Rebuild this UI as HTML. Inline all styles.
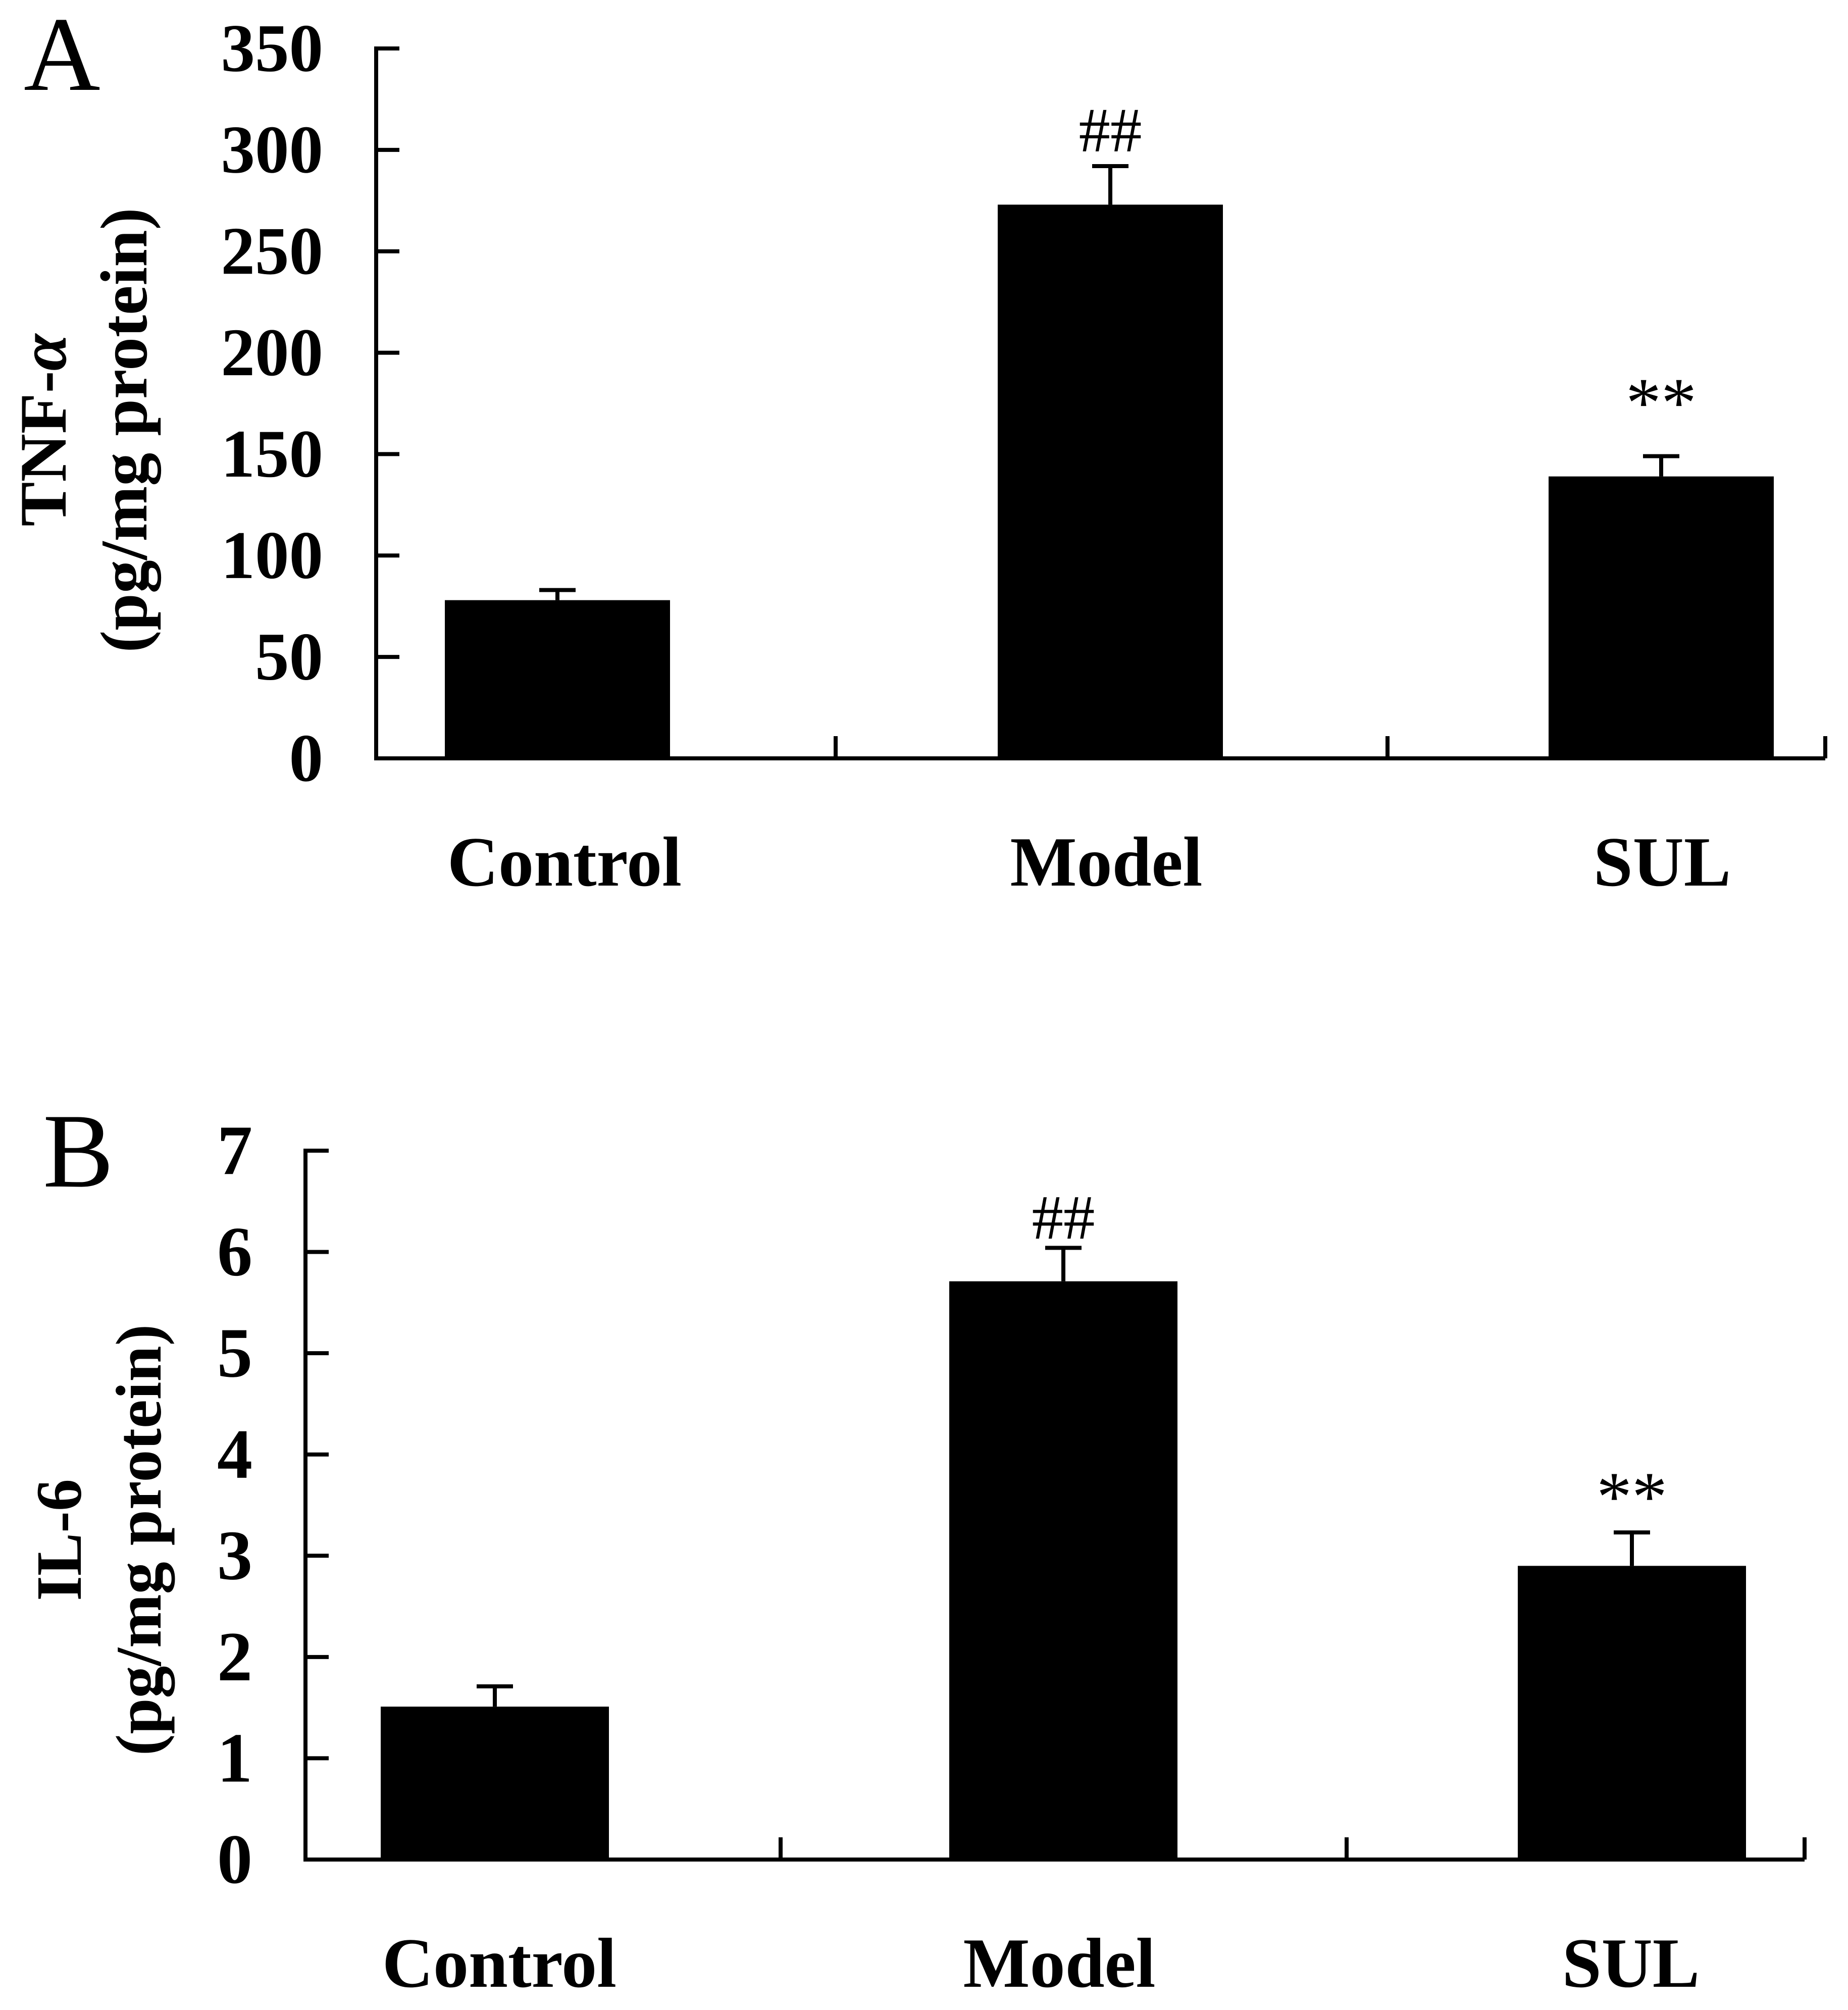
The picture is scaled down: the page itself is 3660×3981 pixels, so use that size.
<!DOCTYPE html>
<html><head><meta charset="utf-8"><style>
html,body{margin:0;padding:0;background:#fff;}
svg{display:block;font-family:"Liberation Serif",serif;}
</style></head><body>
<svg id="fig" width="3660" height="3981" viewBox="0 0 3660 3981" xmlns="http://www.w3.org/2000/svg">
<rect width="3660" height="3981" fill="#fff"/>
</svg>
<script>
const categories = ["Control", "Model", "SUL"];
const tnfValues = [78, 273, 139];
const tnfErrors = [5, 19, 10];
const tnfTicks = [0, 50, 100, 150, 200, 250, 300, 350];
const tnfMarks = ["", "##", "**"];
const il6Values = [1.51, 5.71, 2.90];
const il6Errors = [0.20, 0.33, 0.33];
const il6Ticks = [0, 1, 2, 3, 4, 5, 6, 7];
const il6Marks = ["", "##", "**"];

const NS = "http://www.w3.org/2000/svg";
const svg = document.getElementById("fig");
function mk(tag, attrs, parent){
  const e = document.createElementNS(NS, tag);
  for (const k in attrs) e.setAttribute(k, attrs[k]);
  (parent||svg).appendChild(e);
  return e;
}

function panel(cfg){
  const g = mk("g", {});
  
  
  const yMax = cfg.ticks[cfg.ticks.length-1];
  const y = v => cfg.y0 - (v / yMax) * (cfg.y0 - cfg.yTop);
  const xc = i => cfg.barCenters[i];
  const sw = 8;
  const ya = mk("line", {x1:cfg.axisX, y1:y(yMax)-sw/2, x2:cfg.axisX, y2:cfg.y0+sw/2, stroke:"#000","stroke-width":sw}, g);
  
  
  const xa = mk("line", {x1:cfg.axisX, y1:cfg.y0, x2:cfg.axisEnd, y2:cfg.y0, stroke:"#000","stroke-width":sw}, g);
  
  
  cfg.ticks.forEach(t => {
    if (t !== 0) {
      const tk = mk("line", {x1:cfg.axisX, y1:y(t), x2:cfg.axisX+46, y2:y(t), stroke:"#000","stroke-width":sw}, g);
      
      
    }
    const tl = mk("text", {x:cfg.labelRight, y:y(t)+cfg.tickFont*0.33, "text-anchor":"end","font-weight":"bold","font-size":cfg.tickFont}, g);
    tl.textContent = t;
    
    
  });
  cfg.boundaries.forEach(bx => {
    const bt = mk("line", {x1:bx, y1:cfg.y0, x2:bx, y2:cfg.y0-44, stroke:"#000","stroke-width":sw}, g);
    
    
  });
  categories.forEach((c, i) => {
    const cx = xc(i);
    const v = cfg.values[i], e = cfg.errors[i];
    const eb = mk("line", {x1:cx, y1:y(v+e), x2:cx, y2:y(v), stroke:"#000","stroke-width":sw}, g);
    
    
    const cap = mk("line", {x1:cx-36, y1:y(v+e), x2:cx+36, y2:y(v+e), stroke:"#000","stroke-width":sw}, g);
    
    
    const b = mk("rect", {x:cx-cfg.barW/2, y:y(v), width:cfg.barW, height:cfg.y0-y(v), fill:"#000"}, g);
    
    
    const cl = mk("text", {x:cfg.labelX[i], y:cfg.y0+252, "text-anchor":"middle","font-weight":"bold","font-size":140}, g);
    cl.textContent = c;
    
    
    const mark = cfg.marks[i];
    if (mark) {
      const off = mark === "**" ? cfg.starOff : cfg.hashOff;
      const m = mk("text", {x:cx, y:y(v+e)-off, "text-anchor":"middle","font-size":mark==="**"?140:125}, g);
      m.textContent = mark;
      
      
    }
  });
  const pl = mk("text", {x:cfg.letterX, y:cfg.letterY, "font-size":210}, g);
  pl.textContent = cfg.letter;
  
  
  const t1 = mk("text", {x:0, y:0, "text-anchor":"middle","font-weight":"bold","font-size":cfg.titleFont,
    transform:`translate(${cfg.title1X},${cfg.title1Y}) rotate(-90)`}, g);
  t1.innerHTML = cfg.title1;
  
  
  const t2 = mk("text", {x:0, y:0, "text-anchor":"middle","font-weight":"bold","font-size":cfg.titleFont,
    transform:`translate(${cfg.title2X},${cfg.titleY}) rotate(-90)`}, g);
  t2.textContent = "(pg/mg protein)";
  
  
}

panel({id:"tnf", letter:"A", values:tnfValues, errors:tnfErrors, ticks:tnfTicks, marks:tnfMarks,
  axisX:745, axisEnd:3615, y0:1502, yTop:96, barCenters:[1104,2199,3290], boundaries:[1655,2748,3615], barW:446,
  labelRight:640, tickFont:135, labelX:[1118,2191,3292],
  letterX:47, letterY:178, title1:'TNF-<tspan font-style="italic">α</tspan>', title1X:130, title1Y:852, title2X:290, titleY:852, titleFont:132,
  hashOff:29, starOff:59});

panel({id:"il6", letter:"B", values:il6Values, errors:il6Errors, ticks:il6Ticks, marks:il6Marks,
  axisX:605, axisEnd:3574, y0:3683, yTop:2279, barCenters:[980,2106,3232], boundaries:[1546,2667,3574], barW:452,
  labelRight:500, tickFont:140, labelX:[989,2098,3230],
  letterX:85, letterY:2350, title1:'IL-6', title1X:160, title1Y:3050, title2X:318, titleY:3050, titleFont:128,
  hashOff:18, starOff:24});
</script>
</body></html>
